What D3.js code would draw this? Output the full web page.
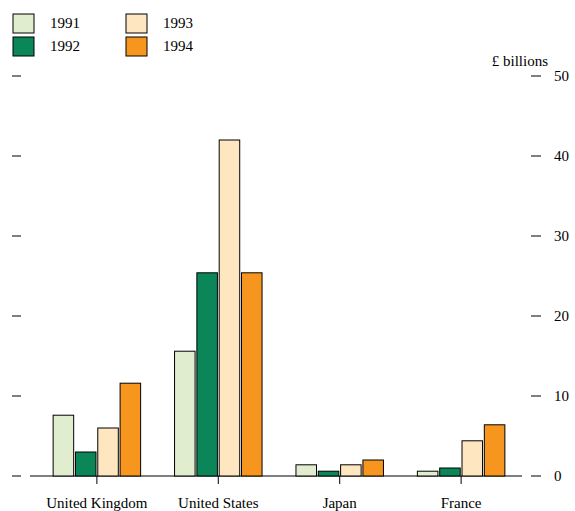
<!DOCTYPE html>
<html><head><meta charset="utf-8">
<script src="https://cdn.jsdelivr.net/npm/d3@7"></script>
<style>body{margin:0;background:#fff}svg text{font-family:'Liberation Serif','Times New Roman',Times,serif;font-size:15px}</style>
</head><body><svg id="svg" width="575" height="511"></svg>
<script>
var countries = ["United Kingdom", "United States", "Japan", "France"];
var years = ["1991", "1992", "1993", "1994"];
var colors = ["#e1edcf", "#0b8658", "#fde6c0", "#f7961f"];
var values = [
    [7.6, 3.0, 6.0, 11.6],
    [15.6, 25.4, 42.0, 25.4],
    [1.4, 0.6, 1.4, 2.0],
    [0.6, 1.0, 4.4, 6.4]
];
var yTicks = [0, 10, 20, 30, 40, 50];

var svg = d3.select("#svg");
var x = d3.scaleBand().domain(countries).range([38, 520]).paddingInner(0.25).paddingOuter(0.11);
var xi = d3.scaleBand().domain(years).range([0, x.bandwidth()]).padding(0.08);
var y = d3.scaleLinear().domain([0, 50]).range([476, 76]);

svg.append("line").attr("x1", 30).attr("x2", 522).attr("y1", y(0)).attr("y2", y(0)).attr("stroke", "#000");

svg.selectAll(".lt").data(yTicks).join("line")
    .attr("x1", 12).attr("x2", 21).attr("y1", d => y(d)).attr("y2", d => y(d)).attr("stroke", "#000");
svg.selectAll(".rt").data(yTicks).join("line")
    .attr("x1", 531).attr("x2", 541).attr("y1", d => y(d)).attr("y2", d => y(d)).attr("stroke", "#000");
svg.selectAll(".rl").data(yTicks).join("text")
    .attr("x", 554).attr("y", d => y(d) + 5).text(d => d);
svg.append("text").attr("x", 548).attr("y", 66).attr("text-anchor", "end").text("£ billions");

var cx = c => x(c) + x.bandwidth() / 2;
svg.selectAll(".ct").data(countries).join("line")
    .attr("x1", cx).attr("x2", cx).attr("y1", y(0)).attr("y2", y(0) + 8).attr("stroke", "#000");
svg.selectAll(".cl").data(countries).join("text")
    .attr("x", cx).attr("y", 508).attr("text-anchor", "middle").text(d => d);

countries.forEach((c, ci) => {
    svg.append("g").selectAll("rect").data(values[ci]).join("rect")
        .attr("x", (d, i) => x(c) + xi(years[i]))
        .attr("width", xi.bandwidth())
        .attr("y", d => y(d))
        .attr("height", d => y(0) - y(d))
        .attr("fill", (d, i) => colors[i])
        .attr("stroke", "#000").attr("stroke-width", 1);
});

years.forEach((yr, i) => {
    var lx = i < 2 ? 13 : 126, ly = i % 2 == 0 ? 14 : 37;
    svg.append("rect").attr("x", lx).attr("y", ly).attr("width", 21).attr("height", 19)
        .attr("fill", colors[i]).attr("stroke", "#000");
    svg.append("text").attr("x", lx + 37).attr("y", ly + 14).text(yr);
});
</script></body></html>
